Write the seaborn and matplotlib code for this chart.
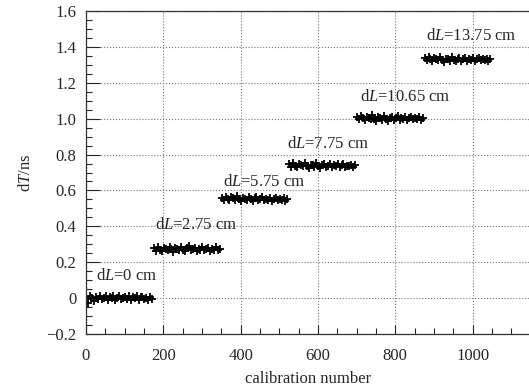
import matplotlib
matplotlib.use("Agg")
import matplotlib.pyplot as plt
import numpy as np
import pandas as pd
import seaborn as sns
from matplotlib.ticker import MultipleLocator

# first calibration number of each dL setting (175 calibrations per setting)
calib_start = [1, 176, 351, 526, 701, 876]
calib_step = 5

# dT values (ns), every 5th calibration
dt_0 = [0.004, -0.030, 0.012, 0.001, -0.015, 0.007, -0.003, 0.010, -0.006, 0.002,
        0.014, -0.011, 0.005, -0.002, 0.009, -0.013, 0.003, 0.011, -0.007, 0.000,
        0.008, -0.004, 0.013, -0.009, 0.006, -0.001, 0.010, -0.012, 0.004, 0.007,
        -0.005, 0.002, -0.010, 0.006, -0.003]
dt_275 = [0.278, 0.265, 0.284, 0.270, 0.262, 0.281, 0.274, 0.268, 0.287, 0.271,
          0.259, 0.279, 0.275, 0.266, 0.283, 0.270, 0.261, 0.277, 0.289, 0.268,
          0.273, 0.282, 0.264, 0.276, 0.270, 0.285, 0.267, 0.272, 0.280, 0.263,
          0.275, 0.269, 0.283, 0.266, 0.274]
dt_575 = [0.560, 0.548, 0.566, 0.553, 0.545, 0.562, 0.556, 0.549, 0.568, 0.551,
          0.543, 0.559, 0.554, 0.547, 0.564, 0.550, 0.542, 0.557, 0.561, 0.546,
          0.552, 0.563, 0.544, 0.555, 0.549, 0.558, 0.541, 0.553, 0.560, 0.545,
          0.551, 0.548, 0.557, 0.543, 0.550]
dt_775 = [0.746, 0.733, 0.751, 0.738, 0.729, 0.749, 0.741, 0.735, 0.755, 0.737,
          0.727, 0.744, 0.740, 0.732, 0.752, 0.736, 0.726, 0.743, 0.748, 0.731,
          0.739, 0.750, 0.728, 0.742, 0.734, 0.747, 0.730, 0.741, 0.745, 0.733,
          0.738, 0.736, 0.744, 0.731, 0.740]
dt_1065 = [1.008, 0.996, 1.014, 1.001, 0.990, 1.011, 1.004, 0.998, 1.019, 1.000,
           0.988, 1.007, 1.003, 0.995, 1.016, 0.999, 0.987, 1.006, 1.012, 0.994,
           1.002, 1.013, 0.991, 1.005, 0.997, 1.010, 0.993, 1.004, 1.009, 0.996,
           1.001, 0.999, 1.008, 0.994, 1.003]
dt_1375 = [1.336, 1.325, 1.341, 1.330, 1.321, 1.339, 1.333, 1.327, 1.345, 1.329,
           1.318, 1.335, 1.332, 1.324, 1.343, 1.328, 1.319, 1.334, 1.338, 1.323,
           1.331, 1.340, 1.320, 1.334, 1.326, 1.337, 1.322, 1.332, 1.336, 1.325,
           1.330, 1.328, 1.335, 1.323, 1.331]

dt_groups = [dt_0, dt_275, dt_575, dt_775, dt_1065, dt_1375]
labels = ["0", "2.75", "5.75", "7.75", "10.65", "13.75"]
label_x = [26, 179, 354, 521, 709, 879]
label_y = [0.123, 0.407, 0.649, 0.859, 1.122, 1.462]


def build_frame() -> pd.DataFrame:
    frames = []
    for start, dt in zip(calib_start, dt_groups):
        calib = np.arange(start, start + calib_step * len(dt), calib_step)
        frames.append(pd.DataFrame({"calib": calib, "dT": dt}))
    return pd.concat(frames, ignore_index=True)


def main() -> None:
    sns.set_style("ticks")
    plt.rcParams["font.family"] = ["Liberation Serif", "DejaVu Serif"]
    plt.rcParams["font.size"] = 12
    plt.rcParams["mathtext.fontset"] = "custom"
    plt.rcParams["mathtext.rm"] = "Liberation Serif"
    plt.rcParams["mathtext.it"] = "Liberation Serif:italic"

    df = build_frame()
    fig = plt.figure(figsize=(5.29, 3.87), dpi=100)
    ax = fig.add_axes([86 / 529, 1 - 334 / 387, (531 - 86) / 529, 323 / 387])

    sns.scatterplot(data=df, x="calib", y="dT", marker="+", color="black",
                    s=40, linewidth=1.3, ax=ax, legend=False)

    for lab, x, y in zip(labels, label_x, label_y):
        ax.text(x, y, f"d$L$={lab} cm", ha="left", va="center", fontsize=12)

    ax.set_xlim(0, 1151)
    ax.set_ylim(-0.2, 1.6)
    ax.xaxis.set_major_locator(MultipleLocator(200))
    ax.xaxis.set_minor_locator(MultipleLocator(50))
    ax.yaxis.set_minor_locator(MultipleLocator(0.05))
    ax.set_yticks(np.arange(-0.2, 1.61, 0.2))
    ax.set_yticklabels(["\u22120.2", "0", "0.2", "0.4", "0.6", "0.8", "1.0", "1.2", "1.4", "1.6"])
    ax.tick_params(axis="x", which="major", direction="in", length=6.5, width=0.8, pad=10)
    ax.tick_params(axis="y", which="major", direction="in", length=10, width=0.8, pad=7)
    ax.tick_params(which="minor", direction="in", length=4, width=0.8)
    ax.grid(True, which="major", linestyle=":", color="#777777", linewidth=0.8)
    for side in ["left", "bottom", "top"]:
        ax.spines[side].set_color("#333333")
        ax.spines[side].set_linewidth(0.9)
    ax.spines["right"].set_visible(False)

    ax.set_xlabel("calibration number", labelpad=5)
    ax.set_ylabel("d$T$/ns", labelpad=9)

    fig.savefig("out.png", dpi=100)
    plt.close(fig)


if __name__ == "__main__":
    main()
